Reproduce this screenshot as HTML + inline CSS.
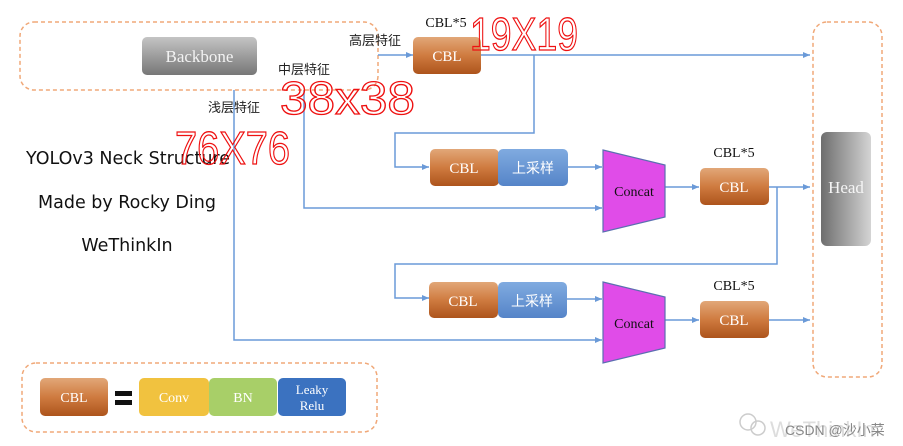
<!DOCTYPE html>
<html><head><meta charset="utf-8"><style>html,body{margin:0;padding:0;background:#fff}svg{display:block}</style></head><body>
<svg width="903" height="446" viewBox="0 0 903 446" xmlns="http://www.w3.org/2000/svg" font-family="'Liberation Serif','Noto Serif CJK SC',serif">
<defs>
<linearGradient id="cbl" x1="0" y1="0" x2="0" y2="1"><stop offset="0" stop-color="#e2a778"/><stop offset="0.5" stop-color="#cf7b40"/><stop offset="1" stop-color="#ad541c"/></linearGradient>
<linearGradient id="up" x1="0" y1="0" x2="0" y2="1"><stop offset="0" stop-color="#80abe0"/><stop offset="1" stop-color="#5584c8"/></linearGradient>
<linearGradient id="bb" x1="0" y1="0" x2="0" y2="1"><stop offset="0" stop-color="#c4c4c4"/><stop offset="1" stop-color="#777"/></linearGradient>
<linearGradient id="hd" x1="0" y1="0" x2="1" y2="0"><stop offset="0" stop-color="#6e6e6e"/><stop offset="1" stop-color="#d4d4d4"/></linearGradient>
<marker id="a" markerWidth="8" markerHeight="8" refX="7" refY="4" orient="auto" markerUnits="userSpaceOnUse"><path d="M0,1 L7,4 L0,7 z" fill="#6a9ad8"/></marker>
</defs>
<g fill="none" stroke="#f0a878" stroke-width="1.5" stroke-dasharray="4,3">
<rect x="20" y="22" width="358" height="68" rx="14"/>
<rect x="813" y="22" width="69" height="355" rx="14"/>
<rect x="22" y="363" width="355" height="69" rx="14"/>
</g>
<rect x="142" y="37" width="115" height="38" rx="5" fill="url(#bb)"/>
<text x="199.5" y="62" text-anchor="middle" fill="#f2f2f2" font-size="17">Backbone</text>
<rect x="821" y="132" width="50" height="114" rx="6" fill="url(#hd)"/>
<text x="846" y="193" text-anchor="middle" fill="#f5f5f5" font-size="17">Head</text>
<g stroke="#6a9ad8" stroke-width="1.5" fill="none">
<line x1="378" y1="55" x2="413" y2="55" marker-end="url(#a)"/>
<line x1="481" y1="55" x2="810" y2="55" marker-end="url(#a)"/>
<polyline points="534,55 534,133 395,133 395,167 429,167" marker-end="url(#a)"/>
<line x1="568" y1="167" x2="602" y2="167" marker-end="url(#a)"/>
<polyline points="304,90 304,208 602,208" marker-end="url(#a)"/>
<polyline points="234,90 234,340 602,340" marker-end="url(#a)"/>
<line x1="665" y1="187" x2="699" y2="187" marker-end="url(#a)"/>
<line x1="769" y1="187" x2="810" y2="187" marker-end="url(#a)"/>
<polyline points="777,187 777,264 395,264 395,298 429,298" marker-end="url(#a)"/>
<line x1="567" y1="299" x2="602" y2="299" marker-end="url(#a)"/>
<line x1="665" y1="320" x2="699" y2="320" marker-end="url(#a)"/>
<line x1="769" y1="320" x2="810" y2="320" marker-end="url(#a)"/>
</g>
<g font-size="15" text-anchor="middle" fill="#fff">
<rect x="413" y="37" width="68" height="37" rx="5" fill="url(#cbl)"/><text x="447" y="61">CBL</text>
<rect x="430" y="149" width="69" height="37" rx="5" fill="url(#cbl)"/><text x="464" y="173">CBL</text>
<rect x="498" y="149" width="70" height="37" rx="5" fill="url(#up)"/><text x="533" y="173" font-family="'Noto Sans CJK SC',sans-serif" font-size="14">上采样</text>
<rect x="429" y="282" width="69" height="36" rx="5" fill="url(#cbl)"/><text x="463" y="306">CBL</text>
<rect x="498" y="282" width="69" height="36" rx="5" fill="url(#up)"/><text x="532" y="306" font-family="'Noto Sans CJK SC',sans-serif" font-size="14">上采样</text>
<rect x="700" y="168" width="69" height="37" rx="5" fill="url(#cbl)"/><text x="734" y="192">CBL</text>
<rect x="700" y="301" width="69" height="37" rx="5" fill="url(#cbl)"/><text x="734" y="325">CBL</text>
<rect x="40" y="378" width="68" height="38" rx="5" fill="url(#cbl)"/><text x="74" y="402" font-size="14">CBL</text>
<rect x="139" y="378" width="70" height="38" rx="5" fill="#f1c23f"/><text x="174" y="402" font-size="14">Conv</text>
<rect x="209" y="378" width="68" height="38" rx="5" fill="#a8cf68"/><text x="243" y="402" font-size="14">BN</text>
<rect x="278" y="378" width="68" height="38" rx="5" fill="#3b72c0"/><text x="312" y="394" font-size="13">Leaky</text><text x="312" y="410" font-size="13">Relu</text>
</g>
<rect x="115" y="391" width="17" height="5" fill="#111"/><rect x="115" y="400" width="17" height="5" fill="#111"/>
<g fill="#e04ce8" stroke="#5b6fb0" stroke-width="1.2">
<polygon points="603,150 665,165 665,217 603,232"/>
<polygon points="603,282 665,297 665,348 603,363"/>
</g>
<g font-size="14" text-anchor="middle" fill="#111">
<text x="634" y="196">Concat</text><text x="634" y="328">Concat</text>
<text x="446" y="27" font-size="14">CBL*5</text>
<text x="734" y="157" font-size="14">CBL*5</text>
<text x="734" y="290" font-size="14">CBL*5</text>
</g>
<g font-family="'Noto Sans CJK SC',sans-serif" font-size="13" fill="#222" text-anchor="middle">
<text x="375" y="45">高层特征</text><text x="304" y="74">中层特征</text><text x="234" y="112">浅层特征</text>
</g>
<g font-family="'DejaVu Sans','Liberation Sans',sans-serif" font-size="17.5" fill="#111" text-anchor="middle">
<text x="128" y="164">YOLOv3 Neck Structure</text>
<text x="127" y="208">Made by Rocky Ding</text>
<text x="127" y="251">WeThinkIn</text>
</g>
<g fill="none" stroke="#ee1111" font-family="'Liberation Sans',sans-serif" font-size="46">
<text x="470" y="50" textLength="108" lengthAdjust="spacingAndGlyphs" stroke-width="1.3">19X19</text>
<text x="280" y="114" textLength="135" lengthAdjust="spacingAndGlyphs" stroke-width="1.3">38x38</text>
<text x="175" y="164" textLength="115" lengthAdjust="spacingAndGlyphs" stroke-width="1.3">76X76</text>
</g>
<g fill="#bbb" font-family="'Liberation Sans','Noto Sans CJK SC',sans-serif">
<circle cx="748" cy="422" r="8" fill="none" stroke="#ccc" stroke-width="1.5"/><circle cx="758" cy="428" r="7" fill="none" stroke="#ccc" stroke-width="1.5"/>
<text x="770" y="437" font-size="22" fill="#ddd">WeThinkIn</text>
<text x="785" y="435" font-size="14" fill="#888">CSDN @沙小菜</text>
</g>
</svg>
</body></html>
